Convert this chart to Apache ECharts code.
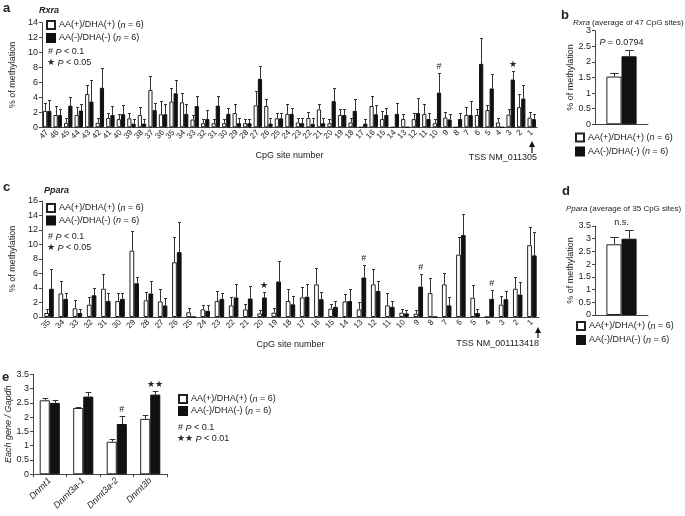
<!DOCTYPE html>
<html>
<head>
<meta charset="utf-8">
<script src="https://cdn.jsdelivr.net/npm/echarts@6/dist/echarts.min.js"></script>
<style>
  html, body { margin: 0; padding: 0; background: #fff; }
  #main { width: 685px; height: 516px; }
</style>
</head>
<body>
<div id="main"></div>
<script>
// panel a: Rxra, CpG sites 47 -> 1
var rxraSites = ['47','46','45','44','43','42','41','40','39','38','37','36','35','34','33','32','31','30','29','28','27','26','25','24',
  '23','22','21','20','19','18','17','16','15','14','13','12','11','10','9','8','7','6','5','4','3','2','1'];
var rxraPlus = [2.2,1.65,0.6,1.65,4.45,0.6,1.25,1.1,1.2,1.65,5.0,1.75,3.45,3.35,1.05,0.55,0.55,0.55,1.9,0.55,2.95,2.85,1.2,1.8,
  0.65,1.25,2.4,0.55,1.65,0.65,0,2.85,1.1,0,1.1,1.1,1.8,0.55,1.3,0,1.65,1.65,2.3,0.65,1.7,2.7,1.3];
var rxraPlusErr = [1.1,1.2,0.6,1.05,1.15,0.6,0.7,0.7,0.75,1.1,1.85,1.75,1.75,1.2,0.6,0.55,0.55,0.55,1.25,0.55,1.85,0.95,0.75,1.3,
  0.6,0.8,0.7,0.55,0.8,0.55,0,1.35,1.1,0,0.7,0.8,1.3,0.55,0.7,0,1.1,0.75,0.7,0.55,0.75,1.7,0.7];
var rxraMinus = [2.2,1.65,2.9,2.25,3.45,5.3,1.65,1.75,0.5,0.5,2.3,1.75,4.55,1.8,2.85,1.1,2.9,1.8,0.55,0.55,6.5,0.5,1.2,1.8,
  0.55,0.45,0.55,3.5,1.65,2.2,0.5,1.75,1.65,1.8,0,1.9,1.1,4.65,1.05,1.1,1.65,8.5,5.2,0,6.4,3.85,1.1];
var rxraMinusErr = [1.4,0.85,1.1,0.85,2.85,2.6,1.2,1.25,0.65,0.6,1.0,1.35,1.75,1.3,1.4,1.2,1.35,0.8,0.65,0.55,1.7,0.7,0.75,0.8,
  0.65,0.75,0.65,1.7,0.8,1.6,0.6,1.25,0.9,1.4,0,2.0,0.8,2.65,0.7,0.8,1.85,3.4,2.0,0,1.2,1.8,0.7];
var rxraMarkSites = ['10', '3'];
var rxraMarkText = ['#', '★'];

// panel b: Rxra average
var rxraAvgPlus = [1.53], rxraAvgPlusErr = [0.11];
var rxraAvgMinus = [2.18], rxraAvgMinusErr = [0.21];

// panel c: Ppara, CpG sites 35 -> 1
var pparaSites = ['35','34','33','32','31','30','29','28','27','26','25','24','23','22','21','20','19','18','17','16','15','14',
  '13','12','11','10','9','8','7','6','5','4','3','2','1'];
var pparaPlus = [0.55,3.25,1.2,1.7,3.9,2.2,9.15,2.3,2.15,7.55,0.65,1.05,2.2,1.6,1.05,0.5,0.6,2.2,2.7,4.5,1.15,2.15,
  1.05,4.5,1.6,0.6,0.45,3.3,4.5,8.6,2.65,0,1.7,3.9,9.9];
var pparaPlusErr = [0.55,1.65,1.1,1.05,2.0,1.05,2.7,1.1,1.7,3.55,0.55,0.65,1.45,1.15,0.7,0.5,0.6,1.65,1.5,2.25,0.7,1.05,
  1.0,2.1,1.65,0.55,0.55,2.1,1.55,2.5,1.7,0,1.2,1.55,2.45];
var pparaMinus = [3.9,2.5,0.55,3.0,2.2,2.5,4.65,3.25,1.6,8.95,0,0.85,2.5,2.7,2.55,2.7,4.9,1.75,2.8,2.45,1.4,2.2,
  5.45,3.6,1.4,0.5,4.2,0,1.6,11.3,0.55,2.5,2.45,3.1,8.5];
var pparaMinusErr = [2.7,0.75,0.55,1.0,1.05,0.75,0.9,1.65,1.0,4.2,0,0.85,0.85,1.8,1.7,0.7,2.8,1.15,1.8,1.05,0.85,1.7,
  1.75,1.4,0.85,0.5,1.7,0,1.15,2.95,0.5,1.2,1.1,1.7,3.2];
var pparaMarkSites = ['20', '13', '9', '4'];
var pparaMarkText = ['★', '#', '#', '#'];

// panel d: Ppara average
var pparaAvgPlus = [2.78], pparaAvgPlusErr = [0.3];
var pparaAvgMinus = [3.0], pparaAvgMinusErr = [0.33];

// panel e: Dnmt expression
var dnmtGenes = ['Dnmt1', 'Dnmt3a-1', 'Dnmt3a-2', 'Dnmt3b'];
var dnmtPlus = [2.59, 2.32, 1.14, 1.94];
var dnmtPlusErr = [0.07, 0.04, 0.1, 0.12];
var dnmtMinus = [2.5, 2.72, 1.76, 2.79];
var dnmtMinusErr = [0.11, 0.17, 0.28, 0.12];
var dnmtMarkGenes = ['Dnmt3a-2', 'Dnmt3b'];
var dnmtMarkText = ['#', '★★'];

var FONT = "'Liberation Sans', Arial, sans-serif";
var INK = '#222';
var PLUS = 'AA(+)/DHA(+)';
var MINUS = 'AA(-)/DHA(-)';

var chart = echarts.init(document.getElementById('main'), null, { renderer: 'canvas' });

function barPair(idx, plus, minus, gap) {
  var common = {
    type: 'bar', xAxisIndex: idx, yAxisIndex: idx, barGap: '0%', barCategoryGap: gap + '%',
    silent: true, animation: false
  };
  return [
    Object.assign({ name: PLUS, data: plus, itemStyle: { color: '#fff', borderColor: '#222', borderWidth: 1 } }, common),
    Object.assign({ name: MINUS, data: minus, itemStyle: { color: '#111', borderColor: '#111', borderWidth: 1 } }, common)
  ];
}

// upward-only error bars for both bars of each category
function errorBars(idx, cats, plus, plusErr, minus, minusErr, gap) {
  return {
    type: 'custom', xAxisIndex: idx, yAxisIndex: idx, silent: true, animation: false, z: 3,
    data: cats.map(function (c, i) { return [i, plus[i], plusErr[i], minus[i], minusErr[i]]; }),
    encode: { x: 0, y: [1, 3] },
    renderItem: function (params, api) {
      var i = api.value(0);
      var cx = api.coord([i, 0])[0];
      var band = api.size([1, 0])[0];
      var bw = band * (1 - gap / 100) / 2;
      var cap = Math.max(bw * 0.28, 1.5);
      var kids = [];
      [[api.value(1), api.value(2), -1], [api.value(3), api.value(4), 1]].forEach(function (s) {
        if (!(s[1] > 0)) return;
        var x = Math.round(cx + s[2] * bw / 2) + 0.5;
        var y0 = api.coord([i, s[0]])[1];
        var y1 = Math.round(api.coord([i, s[0] + s[1]])[1]) + 0.5;
        kids.push({ type: 'line', shape: { x1: x, y1: y0, x2: x, y2: y1 }, style: { stroke: '#333', lineWidth: 1 } });
        kids.push({ type: 'line', shape: { x1: x - cap, y1: y1, x2: x + cap, y2: y1 }, style: { stroke: '#333', lineWidth: 1 } });
      });
      return { type: 'group', children: kids };
    }
  };
}

// significance marks; side 1 = above the AA(-)/DHA(-) bar, 0 = centred on category
function marks(idx, cats, markCats, markText, minus, minusErr, gap, side, lift) {
  return {
    type: 'custom', xAxisIndex: idx, yAxisIndex: idx, silent: true, animation: false, z: 4,
    data: markCats.map(function (c, k) {
      var i = cats.indexOf(c);
      return [i, minus[i] + minusErr[i], markText[k]];
    }),
    encode: { x: 0, y: 1 },
    renderItem: function (params, api) {
      var i = api.value(0);
      var p = api.coord([i, api.value(1)]);
      var band = api.size([1, 0])[0];
      var bw = band * (1 - gap / 100) / 2;
      return {
        type: 'text',
        style: {
          x: p[0] + side * bw / 2, y: p[1] - lift,
          text: String(api.value(2)), align: 'center', verticalAlign: 'bottom',
          fontFamily: FONT, fontSize: 9, fill: INK,
          rich: { i: { fontStyle: 'italic', fontFamily: FONT, fontSize: 9, fill: INK } }
        }
      };
    }
  };
}

function yAx(idx, max, interval, name, italic) {
  return {
    type: 'value', gridIndex: idx, min: 0, max: max, interval: interval,
    name: name, nameLocation: 'middle', nameRotate: 90, nameGap: idx === 1 || idx === 3 ? 20 : 19,
    nameTextStyle: { fontFamily: FONT, fontSize: 9, color: INK, fontStyle: italic ? 'italic' : 'normal' },
    axisLine: { show: true, lineStyle: { color: '#444', width: 1 } },
    axisTick: { show: true, length: 3, lineStyle: { color: '#444' } },
    axisLabel: { fontFamily: FONT, fontSize: 9, color: INK, margin: 4 },
    splitLine: { show: false }
  };
}

function xAx(idx, cats, opts) {
  return Object.assign({
    type: 'category', gridIndex: idx, data: cats,
    axisLine: { show: true, lineStyle: { color: '#444', width: 1 } },
    axisTick: { show: false },
    axisLabel: { show: false },
    splitLine: { show: false }
  }, opts || {});
}

function legendAt(left, top, gap) {
  return {
    orient: 'vertical', left: left, top: top, itemGap: gap, itemWidth: 8, itemHeight: 8,
    icon: 'rect', selectedMode: false, data: [PLUS, MINUS], padding: 0,
    formatter: function (n) { return n + ' ({i|n} = 6)'; },
    textStyle: {
      fontFamily: FONT, fontSize: 9, color: INK, lineHeight: 11, padding: [0, 0, 0, -1],
      rich: { i: { fontStyle: 'italic', fontFamily: FONT, fontSize: 9, color: INK } }
    }
  };
}

function txt(x, y, s, size, weight, style, align) {
  return {
    type: 'text', x: x, y: y, silent: true,
    style: {
      text: s, fontFamily: FONT, fontSize: size, fontWeight: weight || 'normal',
      fontStyle: style || 'normal', fill: INK, align: align || 'left', verticalAlign: 'middle',
      rich: { i: { fontStyle: 'italic', fontFamily: FONT, fontSize: size, fill: INK } }
    }
  };
}

function arrow(x, yTop, yBottom) {
  return {
    type: 'group', silent: true, children: [
      { type: 'line', shape: { x1: x, y1: yTop + 3, x2: x, y2: yBottom }, style: { stroke: '#111', lineWidth: 1.2 } },
      { type: 'polygon', shape: { points: [[x, yTop], [x - 3, yTop + 6], [x + 3, yTop + 6]] }, style: { fill: '#111' } }
    ]
  };
}

var catLabel = { show: true, interval: 0, rotate: 45, fontFamily: FONT, fontSize: 8, color: INK, margin: 4 };

var option = {
  backgroundColor: '#fff',
  animation: false,
  grid: [
    { left: 33, top: 22.7, width: 504, height: 104.6 },
    { left: 595, top: 30.7, width: 53, height: 93.6 },
    { left: 33, top: 201, width: 506, height: 116 },
    { left: 595, top: 226, width: 53, height: 89 },
    { left: 33, top: 374.3, width: 134, height: 100 }
  ],
  xAxis: [
    xAx(0, rxraSites, {
      axisLabel: catLabel,
      name: 'CpG site number', nameLocation: 'middle', nameGap: 24,
      nameTextStyle: { fontFamily: FONT, fontSize: 9, color: INK }
    }),
    xAx(1, ['avg']),
    xAx(2, pparaSites, {
      axisLabel: catLabel,
      name: 'CpG site number', nameLocation: 'middle', nameGap: 23,
      nameTextStyle: { fontFamily: FONT, fontSize: 9, color: INK }
    }),
    xAx(3, ['avg']),
    xAx(4, dnmtGenes, {
      axisTick: { show: true, length: 3, lineStyle: { color: '#444' } },
      axisLabel: { show: true, interval: 0, rotate: 45, fontFamily: FONT, fontSize: 9, fontStyle: 'italic', color: INK, margin: 5 }
    })
  ],
  yAxis: [
    yAx(0, 14, 2, '% of methylation'),
    yAx(1, 3, 0.5, '% of methylation'),
    yAx(2, 16, 2, '% of methylation'),
    yAx(3, 3.5, 0.5, '% of methylation'),
    yAx(4, 3.5, 0.5, 'Each gene / Gapdh', true)
  ],
  legend: [
    legendAt(46, 19.5, 2),
    legendAt(575, 132, 3),
    legendAt(46, 202.5, 1.5),
    legendAt(576, 320.5, 3),
    legendAt(178, 393.5, 1)
  ],
  series: [].concat(
    barPair(0, rxraPlus, rxraMinus, 20),
    [errorBars(0, rxraSites, rxraPlus, rxraPlusErr, rxraMinus, rxraMinusErr, 20),
     marks(0, rxraSites, rxraMarkSites, rxraMarkText, rxraMinus, rxraMinusErr, 20, 1, 2)],
    barPair(1, rxraAvgPlus, rxraAvgMinus, 43),
    [errorBars(1, ['avg'], rxraAvgPlus, rxraAvgPlusErr, rxraAvgMinus, rxraAvgMinusErr, 43),
     marks(1, ['avg'], ['avg'], ['{i|P} = 0.0794'], rxraAvgMinus, rxraAvgMinusErr, 43, 0, 3)],
    barPair(2, pparaPlus, pparaMinus, 33),
    [errorBars(2, pparaSites, pparaPlus, pparaPlusErr, pparaMinus, pparaMinusErr, 33),
     marks(2, pparaSites, pparaMarkSites, pparaMarkText, pparaMinus, pparaMinusErr, 33, 1, 2)],
    barPair(3, pparaAvgPlus, pparaAvgMinus, 43),
    [errorBars(3, ['avg'], pparaAvgPlus, pparaAvgPlusErr, pparaAvgMinus, pparaAvgMinusErr, 43),
     marks(3, ['avg'], ['avg'], ['n.s.'], pparaAvgMinus, pparaAvgMinusErr, 43, 0, 3)],
    barPair(4, dnmtPlus, dnmtMinus, 40),
    [errorBars(4, dnmtGenes, dnmtPlus, dnmtPlusErr, dnmtMinus, dnmtMinusErr, 40),
     marks(4, dnmtGenes, dnmtMarkGenes, dnmtMarkText, dnmtMinus, dnmtMinusErr, 40, 1, 2)]
  ),
  graphic: [
    txt(3, 8, 'a', 13, 'bold'),
    txt(561, 15, 'b', 13, 'bold'),
    txt(3, 187, 'c', 13, 'bold'),
    txt(562, 191, 'd', 13, 'bold'),
    txt(2, 377, 'e', 13, 'bold'),
    txt(39, 11, 'Rxra', 9, 'bold', 'italic'),
    txt(44, 191, 'Ppara', 9, 'bold', 'italic'),
    txt(573, 23, '{i|Rxra} (average of 47 CpG sites)', 8),
    txt(566, 209, '{i|Ppara} (average of 35 CpG sites)', 8),
    txt(48, 52, '# {i|P} < 0.1', 9),
    txt(47, 63, '★ {i|P} < 0.05', 9),
    txt(48, 237, '# {i|P} < 0.1', 9),
    txt(47, 248, '★ {i|P} < 0.05', 9),
    txt(178, 428, '# {i|P} < 0.1', 9),
    txt(177, 439, '★★ {i|P} < 0.01', 9),
    txt(537, 158, 'TSS NM_011305', 9, 'normal', 'normal', 'right'),
    txt(539, 344, 'TSS NM_001113418', 9, 'normal', 'normal', 'right'),
    arrow(532, 141, 153),
    arrow(538, 327, 338)
  ]
};

chart.setOption(option);
</script>
</body>
</html>
